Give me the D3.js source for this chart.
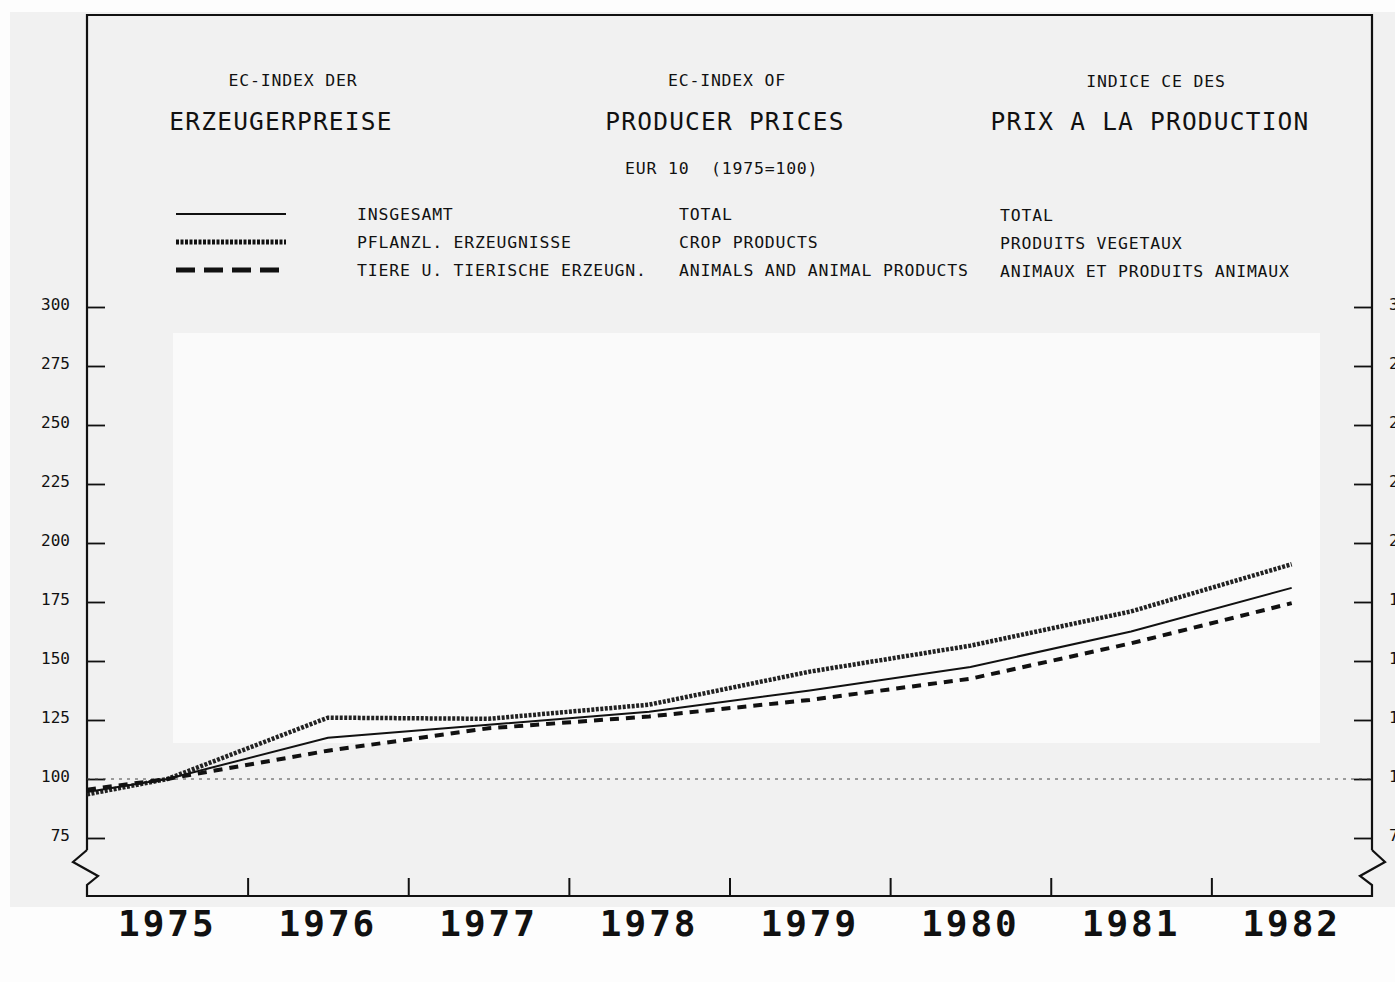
<!DOCTYPE html>
<html>
<head>
<meta charset="utf-8">
<script src="https://cdn.jsdelivr.net/npm/d3@7"></script>
<style>
  body { margin: 0; background: #fdfdfd; }
  text { font-family: "DejaVu Sans Mono", monospace; fill: #111; }
</style>
</head>
<body>
<div id="chart"></div>
<script>
// EC index of producer prices, EUR 10 (1975=100)
var years = [1974.5, 1975, 1976, 1977, 1978, 1979, 1980, 1981, 1982];
var yearLabels = [1975, 1976, 1977, 1978, 1979, 1980, 1981, 1982];
var total  = [94.5, 100, 117.5, 123, 128.5, 137.5, 147.5, 162.5, 181];
var crop   = [93.5, 100, 126, 125.5, 131.5, 145.5, 156.5, 171, 191];
var animal = [95.5, 100, 112, 121.5, 126.5, 133.5, 142.5, 157.5, 174.5];
var yTicks = [75, 100, 125, 150, 175, 200, 225, 250, 275, 300];

var legendDe = ["INSGESAMT", "PFLANZL. ERZEUGNISSE", "TIERE U. TIERISCHE ERZEUGN."];
var legendEn = ["TOTAL", "CROP PRODUCTS", "ANIMALS AND ANIMAL PRODUCTS"];
var legendFr = ["TOTAL", "PRODUITS VEGETAUX", "ANIMAUX ET PRODUITS ANIMAUX"];

var width = 1395, height = 982;
var plotL = 87, plotR = 1372, plotT = 15, plotB = 896;

var svg = d3.select("#chart").append("svg")
  .attr("width", width).attr("height", height);

// paper
svg.append("rect").attr("x", 10).attr("y", 12).attr("width", 1385).attr("height", 895)
  .attr("fill", "#f1f1f1");
svg.append("rect").attr("x", 173).attr("y", 333).attr("width", 1147).attr("height", 410)
  .attr("fill", "#fafafa");

var x = d3.scaleLinear().domain([1974.5, 1982.5]).range([plotL, plotR]);
var y = d3.scaleLinear().domain([100, 300]).range([779, 307]);

// frame
var frame = d3.line();
svg.append("path")
  .attr("d", frame([[plotL, 850], [plotL, plotT], [plotR, plotT], [plotR, 850]]))
  .attr("fill", "none").attr("stroke", "#111").attr("stroke-width", 2.2);

// axis breaks + baseline
svg.append("path")
  .attr("d", frame([[plotL, 850], [73, 862], [98, 876], [plotL, 885], [plotL, plotB], [plotR, plotB],
                  [plotR, 885], [1360, 876], [1385, 862], [plotR, 850]]))
  .attr("fill", "none").attr("stroke", "#111").attr("stroke-width", 2.2);

// y axis left and right
var yAxisL = d3.axisRight(y).tickValues(yTicks).tickSize(18).tickFormat("");
var gl = svg.append("g").attr("transform", "translate(" + plotL + ",0)").call(yAxisL);
gl.select(".domain").remove();
gl.selectAll("line").attr("stroke", "#111").attr("stroke-width", 1.8);

var yAxisR = d3.axisLeft(y).tickValues(yTicks).tickSize(18).tickFormat("");
var gr = svg.append("g").attr("transform", "translate(" + plotR + ",0)").call(yAxisR);
gr.select(".domain").remove();
gr.selectAll("line").attr("stroke", "#111").attr("stroke-width", 1.8);

svg.selectAll(".ylab").data(yTicks).enter().append("text")
  .attr("class", "ylab")
  .attr("x", 70).attr("y", function(d){ return y(d) + 3; })
  .attr("text-anchor", "end")
  .attr("font-size", 16)
  .text(function(d){ return d; });

// right-hand labels run off the page edge, as in the source scan
svg.selectAll(".ylabr").data(yTicks).enter().append("text")
  .attr("class", "ylabr")
  .attr("x", 1389).attr("y", function(d){ return y(d) + 3; })
  .attr("font-size", 16)
  .text(function(d){ return d; });

// x axis: ticks between years, labels in middle
var xBounds = yearLabels.slice(0, -1).map(function(d){ return d + 0.5; });
var xAxis = d3.axisTop(x).tickValues(xBounds).tickSize(18).tickFormat("");
var gx = svg.append("g").attr("transform", "translate(0," + plotB + ")").call(xAxis);
gx.select(".domain").remove();
gx.selectAll("line").attr("stroke", "#111").attr("stroke-width", 2);

svg.selectAll(".xlab").data(yearLabels).enter().append("text")
  .attr("class", "xlab")
  .attr("x", function(d){ return x(d); }).attr("y", 936)
  .attr("text-anchor", "middle")
  .attr("font-size", 36).attr("font-weight", "bold")
  .attr("letter-spacing", 3)
  .text(function(d){ return d; });

// 100 reference line
svg.append("line")
  .attr("x1", plotL).attr("x2", plotR).attr("y1", y(100)).attr("y2", y(100))
  .attr("stroke", "#444").attr("stroke-width", 1).attr("stroke-dasharray", "3,5");

// series
var line = d3.line()
  .x(function(d, i){ return x(years[i]); })
  .y(function(d){ return y(d); });

svg.append("path").datum(crop).attr("d", line)
  .attr("fill", "none").attr("stroke", "#222").attr("stroke-width", 4.5)
  .attr("stroke-dasharray", "3,1.5");
svg.append("path").datum(animal).attr("d", line)
  .attr("fill", "none").attr("stroke", "#111").attr("stroke-width", 4)
  .attr("stroke-dasharray", "9,7");
svg.append("path").datum(total).attr("d", line)
  .attr("fill", "none").attr("stroke", "#111").attr("stroke-width", 2);

// titles
function label(t, xx, yy, size, anchor) {
  svg.append("text").attr("x", xx).attr("y", yy)
    .attr("font-size", size)
    .attr("text-anchor", anchor || "middle")
    .attr("letter-spacing", size > 20 ? 1.2 : 0.8)
    .text(t);
}
label("EC-INDEX DER", 293, 86, 16.5);
label("EC-INDEX OF", 727, 86, 16.5);
label("INDICE CE DES", 1156, 87, 16.5);
label("ERZEUGERPREISE", 281, 130, 24.5);
label("PRODUCER PRICES", 725, 130, 24.5);
label("PRIX A LA PRODUCTION", 1150, 130, 24.5);
label("EUR 10", 625, 174, 16.5, "start");
label("(1975=100)", 711, 174, 16.5, "start");

// legend
var legendY = [214, 242, 270];
var styles = [
  { w: 2, dash: null },
  { w: 5, dash: "3,1.5" },
  { w: 5, dash: "19,9" }
];
styles.forEach(function(s, i){
  svg.append("line").attr("x1", 176).attr("x2", 286)
    .attr("y1", legendY[i]).attr("y2", legendY[i])
    .attr("stroke", "#111").attr("stroke-width", s.w)
    .attr("stroke-dasharray", s.dash);
  label(legendDe[i], 357, legendY[i] + 6, 16.5, "start");
  label(legendEn[i], 679, legendY[i] + 6, 16.5, "start");
  label(legendFr[i], 1000, legendY[i] + 7, 16.5, "start");
});
</script>
</body>
</html>
